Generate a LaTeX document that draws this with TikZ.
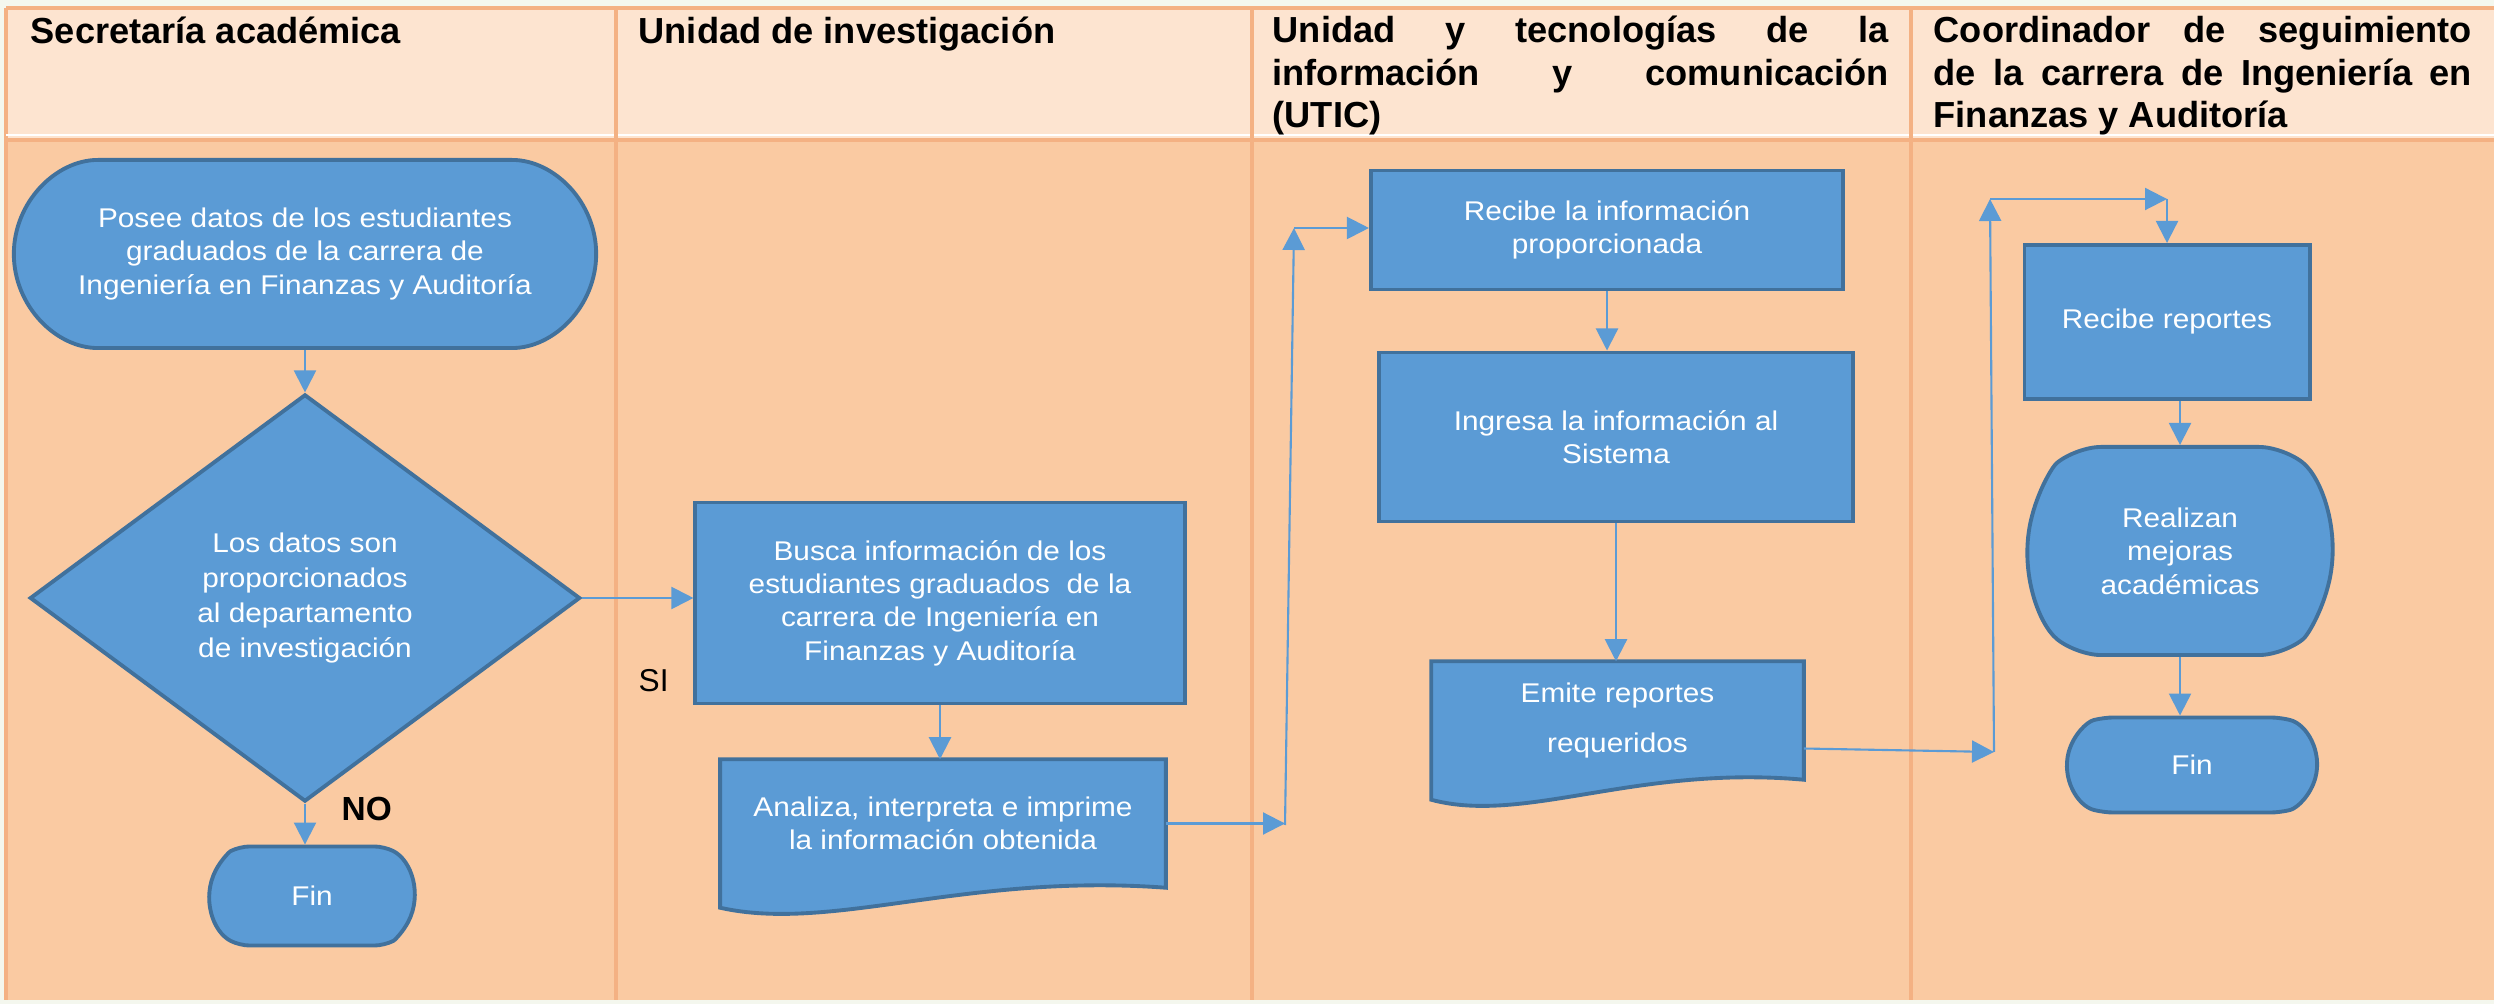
\documentclass[tikz,border=0pt]{standalone}
\usepackage{fontspec}
\setmainfont{Liberation Sans}
\newfontfamily\boxfont[FakeStretch=1.1]{Liberation Sans}
\usetikzlibrary{shapes.geometric,shapes.misc,arrows.meta,calc,backgrounds}

\definecolor{pagebg}{HTML}{F4F7EE}
\definecolor{hdrfill}{HTML}{FDE4D0}
\definecolor{lanefill}{HTML}{FACAA2}
\definecolor{laneline}{HTML}{F4B183}
\definecolor{boxfill}{HTML}{5B9BD5}
\definecolor{boxline}{HTML}{41719C}

\tikzset{
  box/.style={draw=boxline, line width=1.1pt, fill=boxfill, text=white,
    font=\boxfont\fontsize{7.7}{9.5}\selectfont, align=center, inner sep=0pt},
  procbox/.style={box, rectangle},
  endbox/.style={box, rounded rectangle, rounded corners=0.1cm},
  decbox/.style={box, diamond},
  docbox/.style={rectangle, text=white, font=\boxfont\fontsize{7.7}{9.5}\selectfont,
    align=center, inner sep=0pt},
  flow/.style={draw=boxfill, line width=0.6pt, -{Triangle[length=0.22cm,width=0.22cm]}},
  hdr/.style={font=\bfseries\fontsize{10.3}{12}\selectfont, inner sep=0pt},
  lbl/.style={inner sep=0pt, font=\fontsize{9}{10}\selectfont}
}

\newcommand{\docshape}[1]{%
  \path[draw=boxline, fill=boxfill, line width=1.1pt]
    (#1.north west) -- (#1.north east) -- (#1.south east)
    .. controls ($(#1.south west)!0.55!(#1.south east)+(0,-15)$)
    and ($(#1.south west)!0.25!(#1.south east)+(0,45)$)
    .. ($(#1.south west)+(0,20)$) -- cycle;}

\begin{document}
\begin{tikzpicture}[x=0.01cm, y=-0.01cm]
\useasboundingbox (0,0) rectangle (2494,1004);

% lanes
\begin{scope}[on background layer]
  \fill[pagebg] (0,0) rectangle (2494,1004);
  \fill[hdrfill] (6,8) rectangle (2494,140);
  \fill[lanefill] (6,140) rectangle (2494,1000);
  \draw[laneline, line width=1pt] (6,8) -- (2494,8);
  \draw[laneline, line width=1pt] (6,8) -- (6,1000);
  \draw[white, line width=0.5pt] (6,135) -- (2494,135);
  \draw[laneline, line width=1.2pt] (6,140) -- (2494,140);
  \foreach \x in {616,1252,1911}
    \draw[laneline, line width=0.9pt] (\x,8) -- (\x,1000);
\end{scope}

\node[hdr, anchor=base west] (h1) at (30,44) {Secretaría académica};
\node[hdr, anchor=base west] (h2) at (638,44) {Unidad de investigación};
\node[hdr, anchor=base west, text width=6.16cm, align=justify] (h3) at (1272,43)
  {Unidad y tecnologías de la\linebreak información y comunicación\linebreak (UTIC)};
\node[hdr, anchor=base west, text width=5.38cm, align=justify] (h4) at (1933,43)
  {Coordinador de seguimiento\linebreak de la carrera de Ingeniería en\linebreak Finanzas y Auditoría};

% secretaria
\node[endbox, minimum width=5.82cm, minimum height=1.88cm] (start) at (305,254)
  {Posee datos de los estudiantes\\graduados de la carrera de\\Ingeniería en Finanzas y Auditoría};
\node[decbox, minimum width=5.5cm, minimum height=4.07cm,
  font=\boxfont\fontsize{7.7}{10}\selectfont] (dec) at (305,598)
  {Los datos son\\proporcionados\\al departamento\\de investigación};
\node[endbox, rounded rectangle arc length=125, minimum width=2.05cm, minimum height=0.99cm]
  (fin1) at (312,896) {Fin};
\node[lbl, font=\bfseries\fontsize{9.5}{10}\selectfont, anchor=base west] (no) at (341,821) {NO};
\node[lbl, anchor=base west] (si) at (638,692) {SI};

% investigacion
\node[procbox, minimum width=4.89cm, minimum height=2.01cm] (busca) at (940,603)
  {Busca información de los\\estudiantes graduados\ \ de la\\carrera de Ingeniería en\\Finanzas y Auditoría};
\node[docbox, minimum width=4.44cm, minimum height=1.27cm] (analiza) at (943,823.5)
  {Analiza, interpreta e imprime\\la información obtenida};

% UTIC
\node[procbox, minimum width=4.72cm, minimum height=1.19cm] (recibe1) at (1607,230)
  {Recibe la información\\proporcionada};
\node[procbox, minimum width=4.74cm, minimum height=1.69cm] (ingresa) at (1616,437)
  {Ingresa la información al\\Sistema};
\node[docbox, minimum width=3.71cm, minimum height=1.17cm,
  font=\boxfont\fontsize{7.7}{14.5}\selectfont] (emite) at (1617.5,720.5)
  {Emite reportes\\requeridos};

% coordinador
\node[procbox, minimum width=2.85cm, minimum height=1.54cm] (recibe2) at (2167,322)
  {Recibe reportes};
\node[endbox, rounded rectangle arc length=100, rounded corners=0.25cm,
  minimum width=3.05cm, minimum height=2.08cm]
  (realizan) at (2180,551) {Realizan\\mejoras\\académicas};
\node[endbox, rounded rectangle arc length=150, minimum width=2.5cm, minimum height=0.95cm]
  (fin2) at (2192,765) {Fin};

\begin{scope}[on background layer]
  \docshape{analiza}
  \docshape{emite}
\end{scope}

\coordinate (j1) at (1285,825);
\coordinate (j2) at (1294,228);
\coordinate (j3) at (1994,752);
\coordinate (j4) at (1990,199);
\coordinate (j5) at (recibe2.north |- j4);

\draw[flow] (start.south) -- (dec.north);
\draw[flow] (dec.east) -- (dec.east -| busca.west);
\draw[flow] (dec.south) -- (dec.south |- fin1.north);
\draw[flow] (busca.south) -- (busca.south |- analiza.north);
\draw[flow] (analiza.east) -- (analiza.east -| j1);
\draw[flow] (j1) -- (j2);
\draw[flow] (j2) -- (j2 -| recibe1.west);
\draw[flow] (recibe1.south) -- (recibe1.south |- ingresa.north);
\draw[flow] (ingresa.south) -- (ingresa.south |- emite.north);
\draw[flow] ([yshift=-0.28cm]emite.east) -- (j3);
\draw[flow] (j3) -- (j4);
\draw[flow] (j4) -- (j5);
\draw[flow] (j5) -- (recibe2.north);
\draw[flow] (realizan.north |- recibe2.south) -- (realizan.north);
\draw[flow] (realizan.south) -- (realizan.south |- fin2.north);
\end{tikzpicture}
\end{document}
